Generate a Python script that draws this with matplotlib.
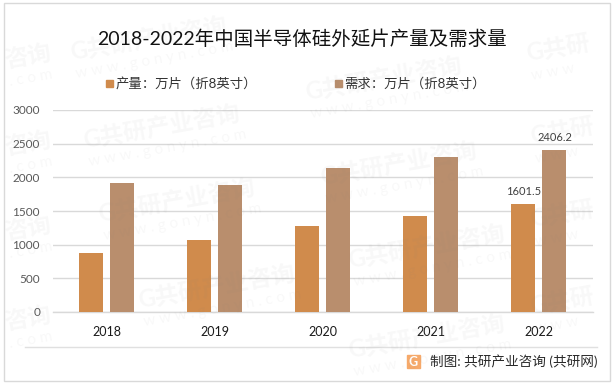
import matplotlib
matplotlib.use('Agg')
import matplotlib.pyplot as plt
from matplotlib.patches import Rectangle
import numpy as np

plt.rcParams['font.family'] = ['Lato', 'Noto Sans CJK SC', 'DejaVu Sans']

years = ['2018', '2019', '2020', '2021', '2022']
production = [876, 1069, 1277, 1426, 1601.5]
demand = [1920, 1886, 2139, 2302, 2406.2]
name_prod = '产量\uff1a万片\uff08折8英寸\uff09'
name_demand = '需求\uff1a万片\uff08折8英寸\uff09'
title = '2018-2022年中国半导体硅外延片产量及需求量'
source = '制图: 共研产业咨询 (共研网)'
yticks = [0, 500, 1000, 1500, 2000, 2500, 3000]
mark_full = [(72, 60), (85, 148), (100, 222), (140, 308), (307, 100), (322, 185),
             (350, 268), (350, 358)]
mark_left = [(6, 68), (6, 155), (6, 240), (6, 330)]
mark_right = [(528, 62), (532, 145), (532, 228), (532, 315)]

W, H = 615, 384
fig = plt.figure(figsize=(W / 100, H / 100), dpi=100, facecolor='white')
px = lambda x, y: (x / W, 1 - y / H)

# outer frame
fig.add_artist(Rectangle((3.5 / W, 1 - 380.5 / H), 606 / W, 378 / H, transform=fig.transFigure,
                         fill=False, ec='#d9d9d9', lw=1.0))

ax = fig.add_axes([52.5 / W, 1 - 312 / H, 540.5 / W, 202 / H])
ax.set_xlim(-0.5, 4.5)
ax.set_ylim(0, 3000)
x = np.arange(len(years))
w = 24 / 108
off = 15.5 / 108
ax.bar(x - off, production, w, color='#d08b4c', zorder=3)
ax.bar(x + off, demand, w, color='#b98e6d', zorder=3)
ax.set_yticks(yticks)
ax.set_xticks(x, years)
ax.grid(axis='y', color='#d9d9d9', lw=1.0, zorder=1)
ax.set_axisbelow(True)
for s in ['top', 'right', 'left']:
    ax.spines[s].set_visible(False)
ax.spines['bottom'].set_color('#d9d9d9')
ax.spines['bottom'].set_linewidth(1.0)
ax.tick_params(length=0)
ax.tick_params(axis='y', labelsize=8.5, labelcolor='#595959', pad=9)
ax.tick_params(axis='x', labelsize=9, labelcolor='#1a1a1a', pad=10)
ax.text(x[4] - off, production[4] + 100, '1601.5', ha='center', va='bottom', fontsize=8, color='#404040', zorder=4)
ax.text(x[4] + off, demand[4] + 100, '2406.2', ha='center', va='bottom', fontsize=8, color='#404040', zorder=4)

fig.text(*px(302, 39), title, ha='center', va='center', fontsize=14, color='#111111')

# legend
for xs, xt, label, c in [(106, 115.5, name_prod, '#d08b4c'), (335, 344.5, name_demand, '#b98e6d')]:
    fig.add_artist(Rectangle((xs / W, 1 - 87 / H), 7 / W, 7 / H, transform=fig.transFigure, color=c))
    fig.text(*px(xt, 83.5), label, ha='left', va='center', fontsize=9.6, color='#333333')

# footer
fig.add_artist(plt.Line2D([25 / W, 597 / W], [1 - 346.5 / H] * 2, color='#e0e0e0', lw=1.0))
fig.add_artist(Rectangle((407 / W, 1 - 368 / H), 13 / W, 13 / H, transform=fig.transFigure, color='#f6a96a'))
fig.text(*px(413.5, 361.5), 'G', ha='center', va='center', fontsize=9, fontweight='bold', color='white')
fig.text(*px(597, 361), source, ha='right', va='center', fontsize=9.8, color='#2a2a2a')

# watermarks
def mark(sx, sy, big, small):
    fig.text(*px(sx, sy), big, rotation=10, rotation_mode='anchor', ha='left', va='baseline',
             fontsize=17, fontweight='bold', color='#808080', alpha=0.055, zorder=10)
    fig.text(*px(sx + 4, sy + 18), small, rotation=10, rotation_mode='anchor',
             ha='left', va='baseline', fontsize=11, color='#808080', alpha=0.055, zorder=10)

for sx, sy in mark_full:
    mark(sx, sy, 'G共研产业咨询', 'w w w . g o n y n . c o m')
for sx, sy in mark_left:
    mark(sx, sy, '咨询', '. c o m')
for sx, sy in mark_right:
    mark(sx, sy, 'G共研', 'w w w')

fig.savefig('out.png', dpi=100)
